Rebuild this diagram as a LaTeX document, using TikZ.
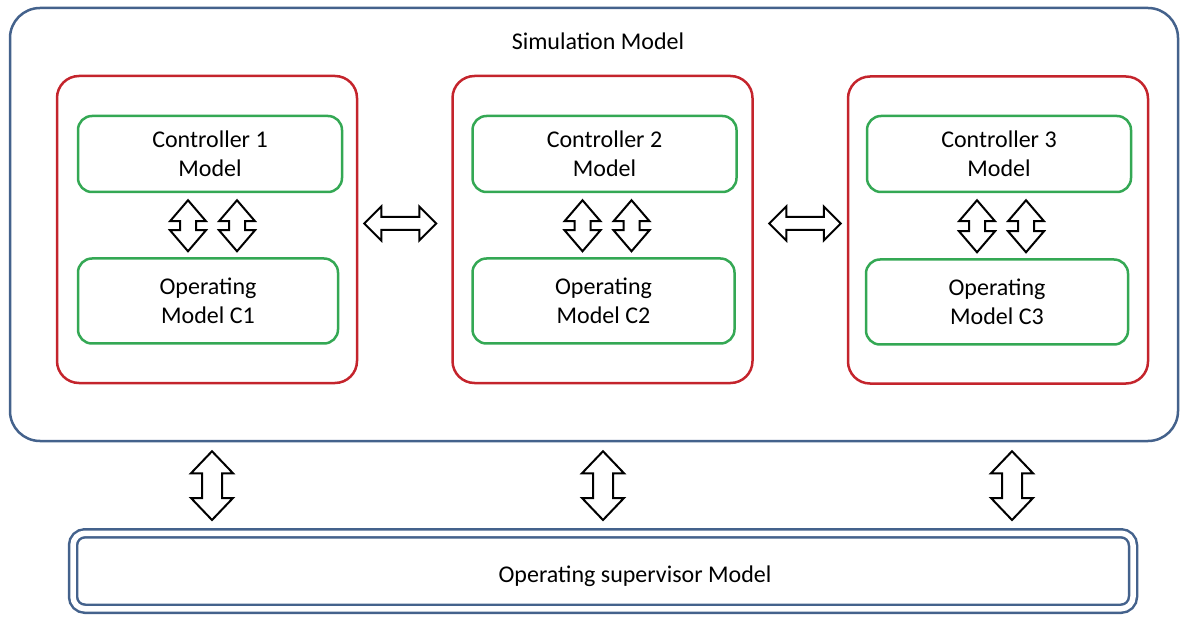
\documentclass[tikz,border=0pt]{standalone}
\usepackage{fontspec}
\setmainfont{Carlito}
\usetikzlibrary{calc,positioning}

\definecolor{simblue}{RGB}{68,98,140}
\definecolor{boxred}{RGB}{196,36,44}
\definecolor{modgreen}{RGB}{52,168,84}

% block double arrows: #1 start, #2 end, #3 half width, #4 half shaft, #5 head
\newcommand{\vbiarrow}[5]{%
	\draw[blockarrow] let \p1=(#1), \p2=(#2) in
		(\x1,\y1) -- (\x1+#3pt,\y1-#5pt) -- (\x1+#4pt,\y1-#5pt) -- (\x1+#4pt,\y2+#5pt)
		-- (\x1+#3pt,\y2+#5pt) -- (\x1,\y2) -- (\x1-#3pt,\y2+#5pt) -- (\x1-#4pt,\y2+#5pt)
		-- (\x1-#4pt,\y1-#5pt) -- (\x1-#3pt,\y1-#5pt) -- cycle;}
\newcommand{\hbiarrow}[5]{%
	\draw[blockarrow] let \p1=(#1), \p2=(#2) in
		(\x1,\y1) -- (\x1+#5pt,\y1+#3pt) -- (\x1+#5pt,\y1+#4pt) -- (\x2-#5pt,\y1+#4pt)
		-- (\x2-#5pt,\y1+#3pt) -- (\x2,\y1) -- (\x2-#5pt,\y1-#3pt) -- (\x2-#5pt,\y1-#4pt)
		-- (\x1+#5pt,\y1-#4pt) -- (\x1+#5pt,\y1-#3pt) -- cycle;}

\begin{document}
\begin{tikzpicture}[x=1pt,y=-1pt,
	every node/.style={font=\fontsize{24}{29.5}\selectfont, align=center, inner sep=0pt},
	simbox/.style={draw=simblue, line width=2.5pt, rounded corners=30pt,
		minimum width=1168pt, minimum height=433pt},
	ctrlbox/.style={draw=boxred, line width=2.5pt, rounded corners=22pt,
		minimum width=300pt, minimum height=307pt},
	modbox/.style={draw=modgreen, line width=2.5pt, rounded corners=14pt,
		minimum width=264pt},
	supbox/.style={draw=simblue, line width=2.5pt, double=white, double distance=5.5pt,
		rounded corners=12pt, minimum width=1060pt, minimum height=75.5pt},
	blockarrow/.style={draw=black, line width=2pt, fill=white, line join=miter}]
	\useasboundingbox (0,0) rectangle (1183,617);

	% Outer box
	\node[simbox] (sim) at (594,224.5) {};
	\node (simtitle) at (598,41) {Simulation Model};

	% Controller boxes
	\node[ctrlbox] (boxA) at (207,229.5) {};
	\node[ctrlbox] (boxB) at (602.5,229.5) {};
	\node[ctrlbox] (boxC) at (998,230) {};

	\node[modbox, minimum height=76pt] (ctrlA) at (210,154) {Controller 1\\Model};
	\node[modbox, minimum height=76pt] (ctrlB) at (604.5,154) {Controller 2\\Model};
	\node[modbox, minimum height=76pt] (ctrlC) at (999,154) {Controller 3\\Model};

	\node[modbox, minimum width=260pt, minimum height=85pt] (opA) at (208,301) {Operating\\Model C1};
	\node[modbox, minimum width=262pt, minimum height=85pt] (opB) at (603.5,301) {Operating\\Model C2};
	\node[modbox, minimum width=262pt, minimum height=85pt] (opC) at (997,302) {Operating\\Model C3};

	% Supervisor
	\node[supbox] (sup) at (603,571) {};
	\node (suptext) at (635,576) {Operating supervisor Model};

	% Arrows inside the boxes
	\vbiarrow{$(ctrlA.south)+(-22,7)$}{$(ctrlA.south |- opA.north)+(-22,-6)$}{18}{8}{21}
	\vbiarrow{$(ctrlA.south)+(27,7)$}{$(ctrlA.south |- opA.north)+(27,-6)$}{18}{8}{21}
	\vbiarrow{$(ctrlB.south)+(-22,7)$}{$(ctrlB.south |- opB.north)+(-22,-6)$}{18}{8}{21}
	\vbiarrow{$(ctrlB.south)+(27,7)$}{$(ctrlB.south |- opB.north)+(27,-6)$}{18}{8}{21}
	\vbiarrow{$(ctrlC.south)+(-22,7)$}{$(ctrlC.south |- opC.north)+(-22,-6)$}{18}{8}{21}
	\vbiarrow{$(ctrlC.south)+(27,7)$}{$(ctrlC.south |- opC.north)+(27,-6)$}{18}{8}{21}

	% Arrows between the boxes
	\hbiarrow{$(boxA.east)+(6,-6)$}{$(boxB.west)+(-15,-6)$}{17}{6.5}{17}
	\hbiarrow{$(boxB.east)+(15.5,-6)$}{$(boxC.west)+(-6,-6)$}{17}{6.5}{17}

	% Arrows to the supervisor
	\vbiarrow{$(sim.south -| boxA)+(5,9)$}{$(sup.north -| boxA)+(5,-12)$}{21}{10}{22}
	\vbiarrow{$(sim.south -| boxB)+(0.5,9)$}{$(sup.north -| boxB)+(0.5,-12)$}{21}{10}{22}
	\vbiarrow{$(sim.south -| boxC)+(14,9)$}{$(sup.north -| boxC)+(14,-12)$}{21}{10}{22}
\end{tikzpicture}
\end{document}
